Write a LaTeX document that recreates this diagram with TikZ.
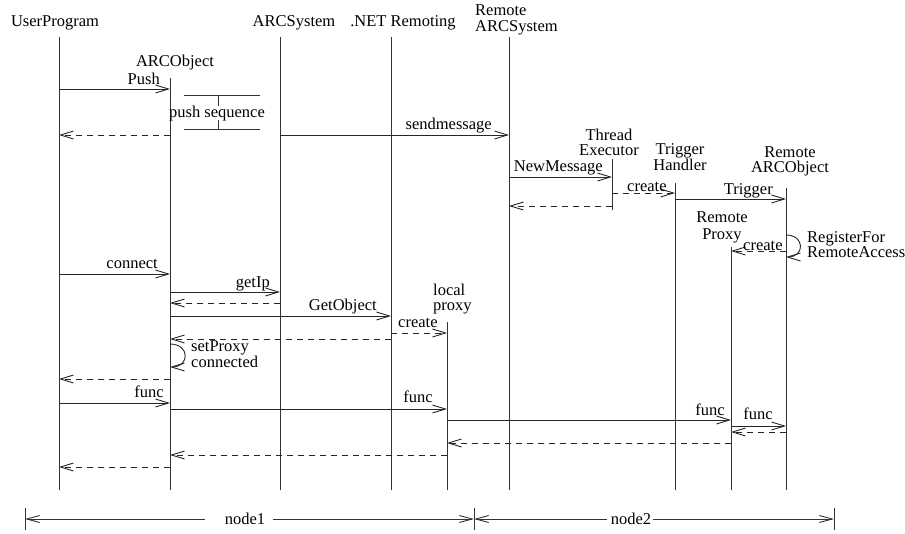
\documentclass[tikz,border=0pt]{standalone}
\usepackage{fontspec}
\setmainfont{Liberation Serif}
\usetikzlibrary{arrows.meta}
\begin{document}
\begin{tikzpicture}[x=1pt,y=-1pt,
  every node/.style={inner sep=0pt, font=\fontsize{16.5}{13}\selectfont},
  head/.style={anchor=base, align=center},
  lbl/.style={anchor=base east},
  lblw/.style={anchor=base west, align=left},
  life/.style={draw=black!80, line width=0.9pt},
  msg/.style={draw=black!85, line width=0.9pt, -{Straight Barb[length=13pt,width=8pt]}},
  ret/.style={msg, dash pattern=on 6pt off 5pt},
  bar/.style={draw=black!80, line width=0.9pt},
  dim/.style={draw=black!80, line width=0.9pt, {Straight Barb[length=13pt,width=7pt]}-}]
\useasboundingbox (0,0) rectangle (905,533);

% lifeline heads (multi-line heads are placed by their last baseline)
\node[head] (upH)  at (55,26)  {UserProgram};
\node[head] (aoH)  at (175,66) {ARCObject};
\node[head] (asH)  at (294,26) {ARCSystem};
\node[head] (netH) at (403,26) {.NET Remoting};
\node[anchor=base west, align=left] (rasH) at (475,31) {Remote\\[3pt]ARCSystem};
\node[head] (teH)  at (609,155) {Thread\\[2pt]Executor};
\node[head] (thH)  at (680,170.5) {Trigger\\Handler};
\node[head] (raoH) at (790,172) {Remote\\[2pt]ARCObject};
\node[head] (rpH)  at (722,239) {Remote\\[4pt]Proxy};
\node[anchor=base west, align=left] (lpH) at (433,310) {local\\[2pt]proxy};

% lifelines
\coordinate (up)  at (59,37);   \coordinate (upE)  at (59,490);
\coordinate (ao)  at (170,78);  \coordinate (aoE)  at (170,490);
\coordinate (as)  at (280,37);  \coordinate (asE)  at (280,490);
\coordinate (net) at (391,37);  \coordinate (netE) at (391,490);
\coordinate (ras) at (509,37);  \coordinate (rasE) at (509,490);
\coordinate (te)  at (612,159); \coordinate (teE)  at (612,210);
\coordinate (th)  at (675,183); \coordinate (thE)  at (675,490);
\coordinate (rp)  at (731,247); \coordinate (rpE)  at (731,490);
\coordinate (rao) at (786,188); \coordinate (raoE) at (786,490);
\coordinate (lp)  at (447,322); \coordinate (lpE)  at (447,490);
\foreach \l in {up,ao,as,net,ras,te,th,rp,rao,lp}
  \draw[life] (\l) -- (\l E);

% push
\draw[msg] (up |- 0,89) -- (ao |- 0,89);
\node[lbl] (pushL) at (160,84) {Push};
% push sequence bracket
\coordinate (bTL) at (184,95);  \coordinate (bTR) at (260,95);
\coordinate (bBL) at (184,129); \coordinate (bBR) at (260,129);
\draw[bar] (bTL) -- (bTR);
\draw[bar] (bBL) -- (bBR);
\node[anchor=base] (pseq) at (217,117) {push sequence};
\draw[bar] (218,95) -- (218,106);
\draw[bar] (218,120) -- (218,129);
\draw[ret] (ao |- 0,135) -- (up |- 0,135);

% remote send
\draw[msg] (as |- 0,135) -- (ras |- 0,135);
\node[lbl] (sendL) at (492,129) {sendmessage};
\draw[msg] (ras |- 0,177) -- (te |- 0,177);
\node[lbl] (newL) at (603,171) {NewMessage};
\draw[ret] (te |- 0,206) -- (ras |- 0,206);
\draw[ret] (te |- 0,193) -- (th |- 0,193);
\node[anchor=base west] (cr1) at (627,191) {create};
\draw[msg] (th |- 0,199) -- (rao |- 0,199);
\node[lbl] (trigL) at (773,194) {Trigger};
\draw[ret] (rao |- 0,251) -- (rp |- 0,251);
\node[anchor=base west] (cr2) at (743,250) {create};
\draw[msg] (rao |- 0,235) .. controls (805,235) and (805,257) .. (rao |- 0,257);
\node[lblw] (regL) at (807,257.5) {RegisterFor\\RemoteAccess};

% connect
\draw[msg] (up |- 0,274) -- (ao |- 0,274);
\node[lbl] (conL) at (158,268) {connect};
\draw[msg] (ao |- 0,292) -- (as |- 0,292);
\node[lbl] (ipL) at (270,287) {getIp};
\draw[ret] (as |- 0,303) -- (ao |- 0,303);
\draw[msg] (ao |- 0,316) -- (net |- 0,316);
\node[lbl] (goL) at (377,310) {GetObject};
\draw[ret] (net |- 0,333) -- (lp |- 0,333);
\node[anchor=base west] (cr3) at (398,327) {create};
\draw[ret] (net |- 0,339) -- (ao |- 0,339);
\draw[msg] (ao |- 0,344) .. controls (190,344) and (190,367) .. (ao |- 0,367);
\node[lblw] (spL) at (191,367.5) {setProxy\\connected};
\draw[ret] (ao |- 0,379) -- (up |- 0,379);

% func calls
\draw[msg] (up |- 0,403) -- (ao |- 0,403);
\node[lbl] (f1) at (164,397) {func};
\draw[msg] (ao |- 0,409) -- (lp |- 0,409);
\node[lbl] (f2) at (433,402) {func};
\draw[msg] (lp |- 0,420) -- (rp |- 0,420);
\node[lbl] (f3) at (725,415) {func};
\draw[msg] (rp |- 0,426) -- (rao |- 0,426);
\node[lbl] (f4) at (773,419) {func};
\draw[ret] (rao |- 0,432) -- (rp |- 0,432);
\draw[ret] (rp |- 0,443) -- (lp |- 0,443);
\draw[ret] (lp |- 0,455) -- (ao |- 0,455);
\draw[ret] (ao |- 0,467) -- (up |- 0,467);

% deployment nodes
\coordinate (d0) at (25,519); \coordinate (d1) at (474,519); \coordinate (d2) at (834,519);
\foreach \d in {d0,d1,d2} \draw[bar] (\d) ++(0,-11) -- ++(0,22);
\node[anchor=base] (n1) at (245,524) {node1};
\node[anchor=base] (n2) at (631,524) {node2};
\draw[dim] (d0) -- (205,519);
\draw[dim] (d1) -- (273,519);
\draw[dim] (d1) -- (607,519);
\draw[dim] (d2) -- (653,519);
\end{tikzpicture}
\end{document}
